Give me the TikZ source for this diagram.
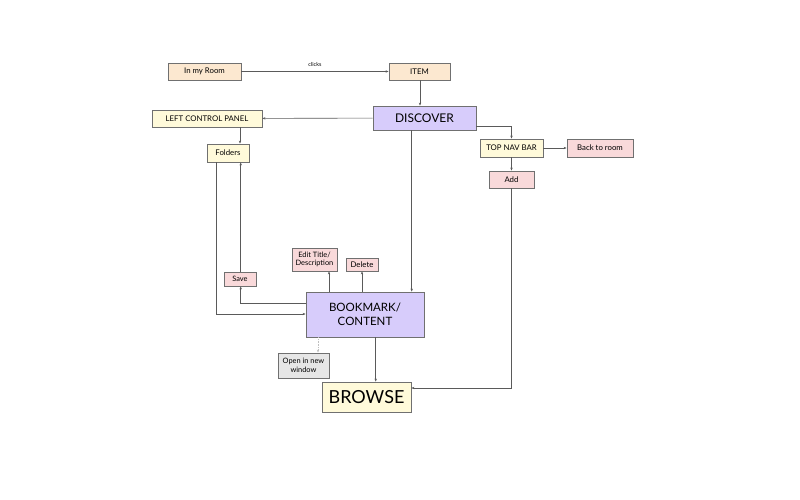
\documentclass[tikz,border=0pt]{standalone}
\usepackage{fontspec}
\setmainfont{Lato}
\usetikzlibrary{arrows.meta}
\definecolor{peach}{HTML}{FCE8D0}
\definecolor{lyellow}{HTML}{FFFADA}
\definecolor{lav}{HTML}{D7CCFB}
\definecolor{lpink}{HTML}{F9D9DA}
\definecolor{lgray}{HTML}{E6E6E6}
\definecolor{edge}{HTML}{707070}
\tikzset{
  box/.style={draw=edge, line width=0.8pt, inner sep=0pt, align=center, font=\fontsize{7.8}{8.6}\selectfont},
  conn/.style={draw=edge!80!black, line width=0.6pt, -{Stealth[length=3pt,width=2.4pt]}},
}
\begin{document}
\begin{tikzpicture}[x=1pt,y=-1pt]
\useasboundingbox (0,0) rectangle (800,500);
\node[box,fill=peach,minimum width=73pt,minimum height=17pt] (room) at (204.5,71.5) {In my Room};
\node[box,fill=peach,minimum width=61pt,minimum height=17pt] (item) at (419.5,71.5) {ITEM};
\node[box,fill=lav,minimum width=103pt,minimum height=24pt,font=\fontsize{12}{13}\selectfont] (disc) at (424.5,118) {DISCOVER};
\node[box,fill=lyellow,minimum width=110pt,minimum height=17pt] (lcp) at (207,118.5) {LEFT CONTROL PANEL};
\node[box,fill=lyellow,minimum width=42pt,minimum height=18pt] (fold) at (228,153) {Folders};
\node[box,fill=lyellow,minimum width=63pt,minimum height=18pt] (tnb) at (511.5,148) {TOP NAV BAR};
\node[box,fill=lpink,minimum width=66pt,minimum height=18pt] (back) at (600,148) {Back to room};
\node[box,fill=lpink,minimum width=45pt,minimum height=17pt] (add) at (511.5,179.5) {Add};
\node[box,fill=lpink,minimum width=45pt,minimum height=23pt,font=\fontsize{7.4}{8.4}\selectfont] (edit) at (314.5,259.5) {Edit Title/\\Description};
\node[box,fill=lpink,minimum width=32pt,minimum height=13pt] (del) at (362,264.5) {Delete};
\node[box,fill=lpink,minimum width=32pt,minimum height=14pt,font=\fontsize{7.4}{8}\selectfont] (save) at (240,279) {Save};
\node[box,fill=lav,minimum width=118pt,minimum height=45pt,font=\fontsize{11.5}{14}\selectfont] (book) at (365,314.5) {BOOKMARK/\\CONTENT};
\node[box,fill=lgray,minimum width=51pt,minimum height=25pt,font=\fontsize{7.4}{9.2}\selectfont] (open) at (303.5,365.5) {Open in new\\window};
\node[box,fill=lyellow,minimum width=89pt,minimum height=30pt,font=\fontsize{18}{20}\selectfont] (brow) at (366.5,397) {BROWSE};

\draw[conn] (room) -- node[above=1pt, font=\fontsize{5.5}{6}\selectfont] {clicks} (item);
\draw[conn] (item.south -| 420,0) -- (disc.north -| 420,0);
\draw[conn] (disc) -- (lcp);
\draw[conn] (lcp.south -| 240,0) -- (fold.north -| 240,0);
\draw[conn] (disc.east |- 0,126) -| (tnb.north);
\draw[conn] (tnb) -- (back);
\draw[conn] (tnb) -- (add);
\draw[conn] (add.south) |- (brow.east |- 0,388);
\draw[conn] (disc.south -| 411.7,0) -- (book.north -| 411.7,0);
\draw[conn] (book.north -| 329,0) -- (edit.south -| 329,0);
\draw[conn] (book.north -| 362,0) -- (del.south);
\draw[conn] (book.west |- 0,303) -| (save.south -| 240.7,0);
\draw[conn] (save.north -| 240.7,0) -- (fold.south -| 240.7,0);
\draw[conn] (fold.south -| 216,0) |- (book.west |- 0,314);
\draw[conn] (book.south -| 375.7,0) -- (brow.north -| 375.7,0);
\draw[conn, draw=gray!50, densely dotted] (book.south -| 318,0) -- (open.north -| 318,0);
\end{tikzpicture}
\end{document}
